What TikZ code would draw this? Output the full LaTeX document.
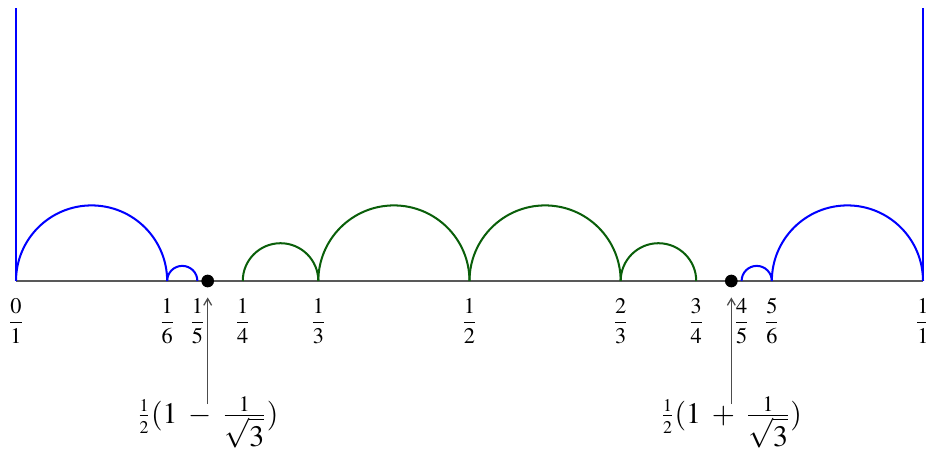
\documentclass[tikz,border=0pt]{standalone}
\usepackage{mathptmx}
\usetikzlibrary{arrows.meta}

\definecolor{hgreen}{RGB}{10,95,10}

\begin{document}
\begin{tikzpicture}[
    x=15cm, y=15cm,
    geo/.style={line width=0.95pt},
    axis/.style={draw=black!65, line width=0.7pt},
    lbl/.style={font=\fontsize{10.5}{12}\selectfont, inner sep=0pt},
    big/.style={font=\fontsize{14}{17}\selectfont, inner sep=0pt, anchor=base},
    dot/.style={circle, fill=black, inner sep=0pt, minimum size=2.1mm},
    arr/.style={-{Straight Barb[length=1.1mm, width=1.3mm]}, draw=black!70,
        line width=0.6pt, shorten >=1.6mm, shorten <=-1.3mm}
]
\useasboundingbox (-0.01764,-0.18743) rectangle (1.00331,0.30981);

\coordinate (zero) at (0,0);
\coordinate (one) at (1,0);

% real line and the two vertical geodesics
\draw[axis] (zero) -- (one);
\draw[geo, blue] (zero) -- ++(0,0.301);
\draw[geo, blue] (one) -- ++(0,0.301);

% semicircles
\foreach \a/\r/\c in {0/{1/12}/blue, {1/6}/{1/60}/blue,
                      {4/5}/{1/60}/blue, {5/6}/{1/12}/blue,
                      {1/4}/{1/24}/hgreen, {1/3}/{1/12}/hgreen,
                      {1/2}/{1/12}/hgreen, {2/3}/{1/24}/hgreen}
    \draw[geo, \c] (\a,0) arc[start angle=180, end angle=0, radius=\r];

% fraction labels
\foreach \p/\q in {0/1, 1/6, 1/5, 1/4, 1/3, 1/2, 2/3, 3/4, 4/5, 5/6, 1/1}
    \node[lbl] (f\p\q) at ({\p/\q},-0.0441) {$\displaystyle\frac{\p}{\q}$};

% fixed points
\node[dot] (lo) at ({(1-1/sqrt(3))/2},0) {};
\node[dot] (hi) at ({(1+1/sqrt(3))/2},0) {};

\node[big] (lolbl) at ({(1-1/sqrt(3))/2},-0.1568)
    {$\frac{\scriptscriptstyle 1}{\scriptscriptstyle 2}(1\;-\;\frac{1}{\displaystyle\sqrt{3}})$};
\node[big] (hilbl) at ({(1+1/sqrt(3))/2},-0.1568)
    {$\frac{\scriptscriptstyle 1}{\scriptscriptstyle 2}(1\;+\;\frac{1}{\displaystyle\sqrt{3}})$};

\draw[arr] (lolbl.north) -- (lo.south);
\draw[arr] (hilbl.north) -- (hi.south);
\end{tikzpicture}
\end{document}
